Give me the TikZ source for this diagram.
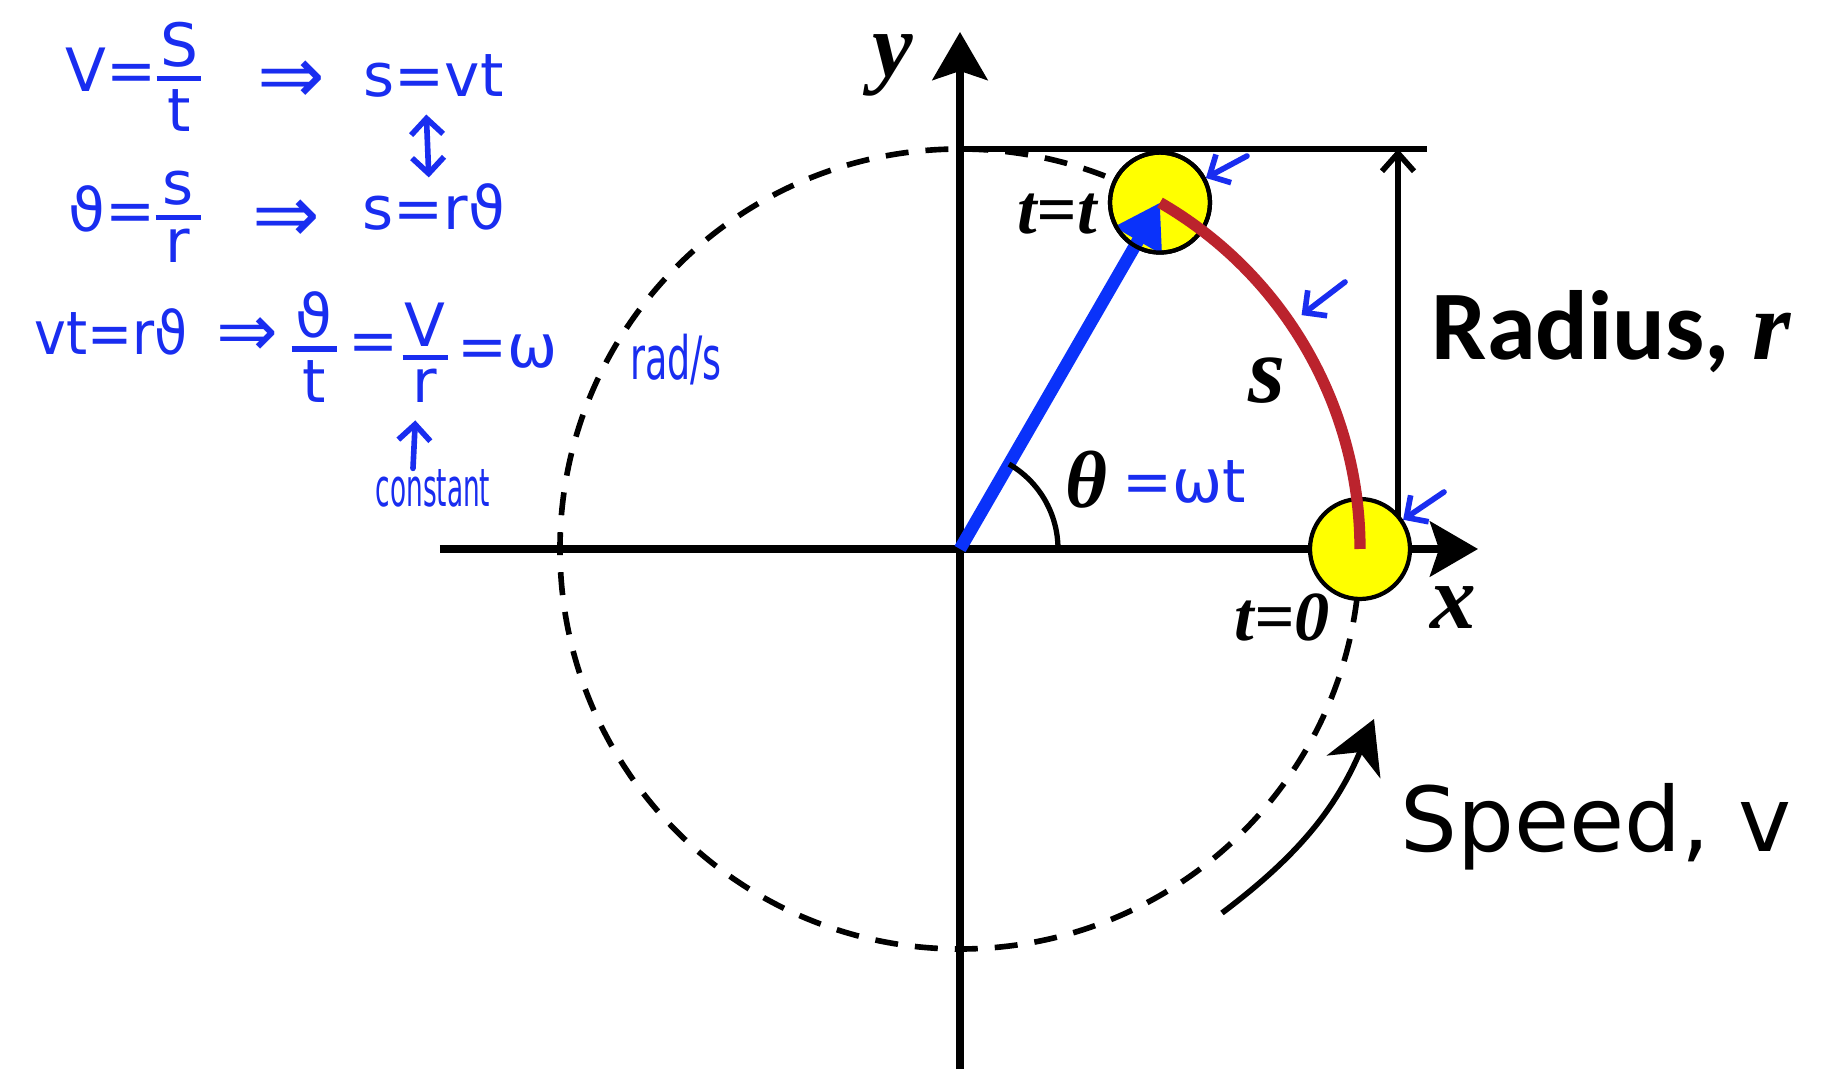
\documentclass[tikz,border=0pt]{standalone}
\usepackage{amsmath}
\usepackage{graphicx}
\usepackage{fontspec}
\newfontfamily\handfont{DejaVu Sans}
\newfontfamily\labelfont{Liberation Serif}
\newfontfamily\radiusfont{Carlito}
\usepackage{xcolor}
\definecolor{handblue}{RGB}{25, 45, 240}
\definecolor{vecblue}{RGB}{10, 50, 250}
\definecolor{arcred}{RGB}{187, 35, 45}
\definecolor{ballyellow}{RGB}{255, 255, 0}
\usepackage{tikz}
\usetikzlibrary{arrows.meta, positioning}

% handwritten fraction: numerator, thick bar, denominator
\newcommand{\hfrac}[2]{$\vcenter{\offinterlineskip\halign{\hfil##\hfil\cr #1\cr\noalign{\kern2.5pt}\rule{0.75em}{1.5pt}\cr\noalign{\kern2.5pt}#2\cr}}$}

\begin{document}
\begin{tikzpicture}[
    axis/.style={line width=2.1pt, -{Stealth[length=4.8mm, width=5.5mm, inset=0.9mm]}},
    guide/.style={line width=1.6pt},
    orbit/.style={line width=1.6pt, dash pattern=on 2.3mm off 1.7mm},
    ball/.style={circle, draw, line width=1.2pt, fill=ballyellow, minimum size=1cm, inner sep=0pt},
    radvec/.style={vecblue, line width=3.6pt, -{Triangle[length=4.4mm, width=5.2mm]}},
    arclen/.style={arcred, line width=3.2pt},
    handline/.style={handblue, line width=1.6pt, line cap=round},
    hb/.tip={Straight Barb[length=1.6mm, width=3.2mm]},
    hand/.style={handblue, inner sep=0pt, font=\handfont\fontsize{17}{20}\selectfont},
    var/.style={inner sep=0pt, font=\labelfont\bfseries\itshape\fontsize{#1}{#1}\selectfont}]

    \useasboundingbox (-9.60,-5.31) rectangle (8.82,5.49);
    \fill[white] (-9.60,-5.31) rectangle (8.82,5.49);

    % orbit, axes, radius marker
    \coordinate (O) at (0,0);
    \draw[orbit] (O) circle[radius=4];
    \draw[axis] (-5.2,0) -- (5.18,0);
    \draw[axis] (0,-5.2) -- (0,5.17);
    \draw[guide] (0,4) -- (4.67,4);
    \draw[guide, -{Straight Barb[length=1.8mm, width=3.2mm]}] (4.38,0) -- (4.38,4);

    % positions at t=0 and t=t
    \node[ball] (t0) at (0:4) {};
    \node[ball] (tt) at (60:4) {};
    \draw[radvec] (O) -- (tt.center);
    \draw[line width=1.2pt] (tt.center) circle[radius=0.5];
    \draw[arclen] (t0.center) arc[start angle=0, end angle=60, radius=4];
    \draw[line width=1.5pt] (0.98,0) arc[start angle=0, end angle=60, radius=0.98];

    \node[var=26] (ylab) at (-0.67,4.84) {y};
    \node[var=26] (xlab) at (4.93,-0.59) {x};
    \node[var=20] (ttlab) at (0.97,3.35) {t=t};
    \node[var=20] (t0lab) at (3.22,-0.68) {t=0};
    \node[var=27] (slab) at (3.07,1.68) {s};
    \node[var=23] (thlab) at (1.26,0.69) {θ};
    \node[hand] (wt) at (2.24,0.67) {=ωt};

    \node[anchor=base west, inner sep=0pt, font=\radiusfont\bfseries\fontsize{28}{32}\selectfont] (radius) at (4.71,1.89) {Radius, {\labelfont\itshape r}};
    \node[anchor=base west, inner sep=0pt, font=\handfont\fontsize{25.5}{30}\selectfont] (speed) at (4.40,-3.03) {Speed, v};

    % speed arrow
    \coordinate (v0) at (2.62,-3.64);
    \coordinate (v1) at (4.14,-1.70);
    \draw[line width=1.6pt, -{Stealth[length=5.2mm, width=5.8mm, inset=1.6mm]}] (v0) to[bend right=15] (v1);

    % hand drawn pointers
    \coordinate (h1) at (2.87,3.93);
    \coordinate (h2) at (3.85,2.67);
    \coordinate (h2tip) at (34.4:4.14);
    \coordinate (h3) at (4.84,0.57);
    \draw[handline, -hb] (h1) -- (tt);
    \draw[handline, -hb] (h2) -- (h2tip);
    \draw[handline, -hb] (h3) -- (t0);

    % hand written equations
    \node[hand, anchor=base west] (eqv) at (-8.95,4.57) {V=\hfrac{S}{t}};
    \node[hand, font=\handfont\fontsize{23}{25}\selectfont] (imp1) at (-6.69,4.67) {⇒};
    \node[hand, anchor=base west] (svt) at (-5.97,4.52) {s=vt};
    \node[hand, anchor=base west] (eqth) at (-8.92,3.17) {ϑ=\hfrac{s}{r}};
    \node[hand, font=\handfont\fontsize{23}{25}\selectfont] (imp2) at (-6.74,3.28) {⇒};
    \node[hand, anchor=base west] (srt) at (-5.98,3.19) {s=rϑ};
    \node[hand, anchor=base west] (vtrt) at (-9.26,1.94) {\scalebox{0.9}[1]{vt=rϑ}};
    \node[hand, font=\handfont\fontsize{21}{23}\selectfont] (imp3) at (-7.13,2.12) {⇒};
    \node[hand, anchor=base west] (thfr) at (-6.69,1.87) {\hfrac{ϑ}{t}};
    \node[hand, anchor=base west] (eqa) at (-6.12,1.87) {=};
    \node[hand, anchor=base west] (vrfr) at (-5.58,1.81) {\hfrac{V}{r}};
    \node[hand, anchor=base west] (omg) at (-5.03,1.81) {=ω};
    \node[hand] (rps) at (-2.84,1.89) {\scalebox{0.61}[1]{rad/s}};
    \node[hand, font=\handfont\fontsize{15}{18}\selectfont] (const) at (-5.27,0.61) {\scalebox{0.5}[1]{constant}};

    \draw[handline, hb-hb, shorten <=1.6mm, shorten >=0.6mm] ([xshift=-0.8mm]svt.south) -- ([xshift=-0.5mm]srt.north);
    \draw[handline, -hb, shorten >=1.7mm] ([xshift=-2mm]const.north) -- ([xshift=-0.9mm]vrfr.south);
\end{tikzpicture}
\end{document}
